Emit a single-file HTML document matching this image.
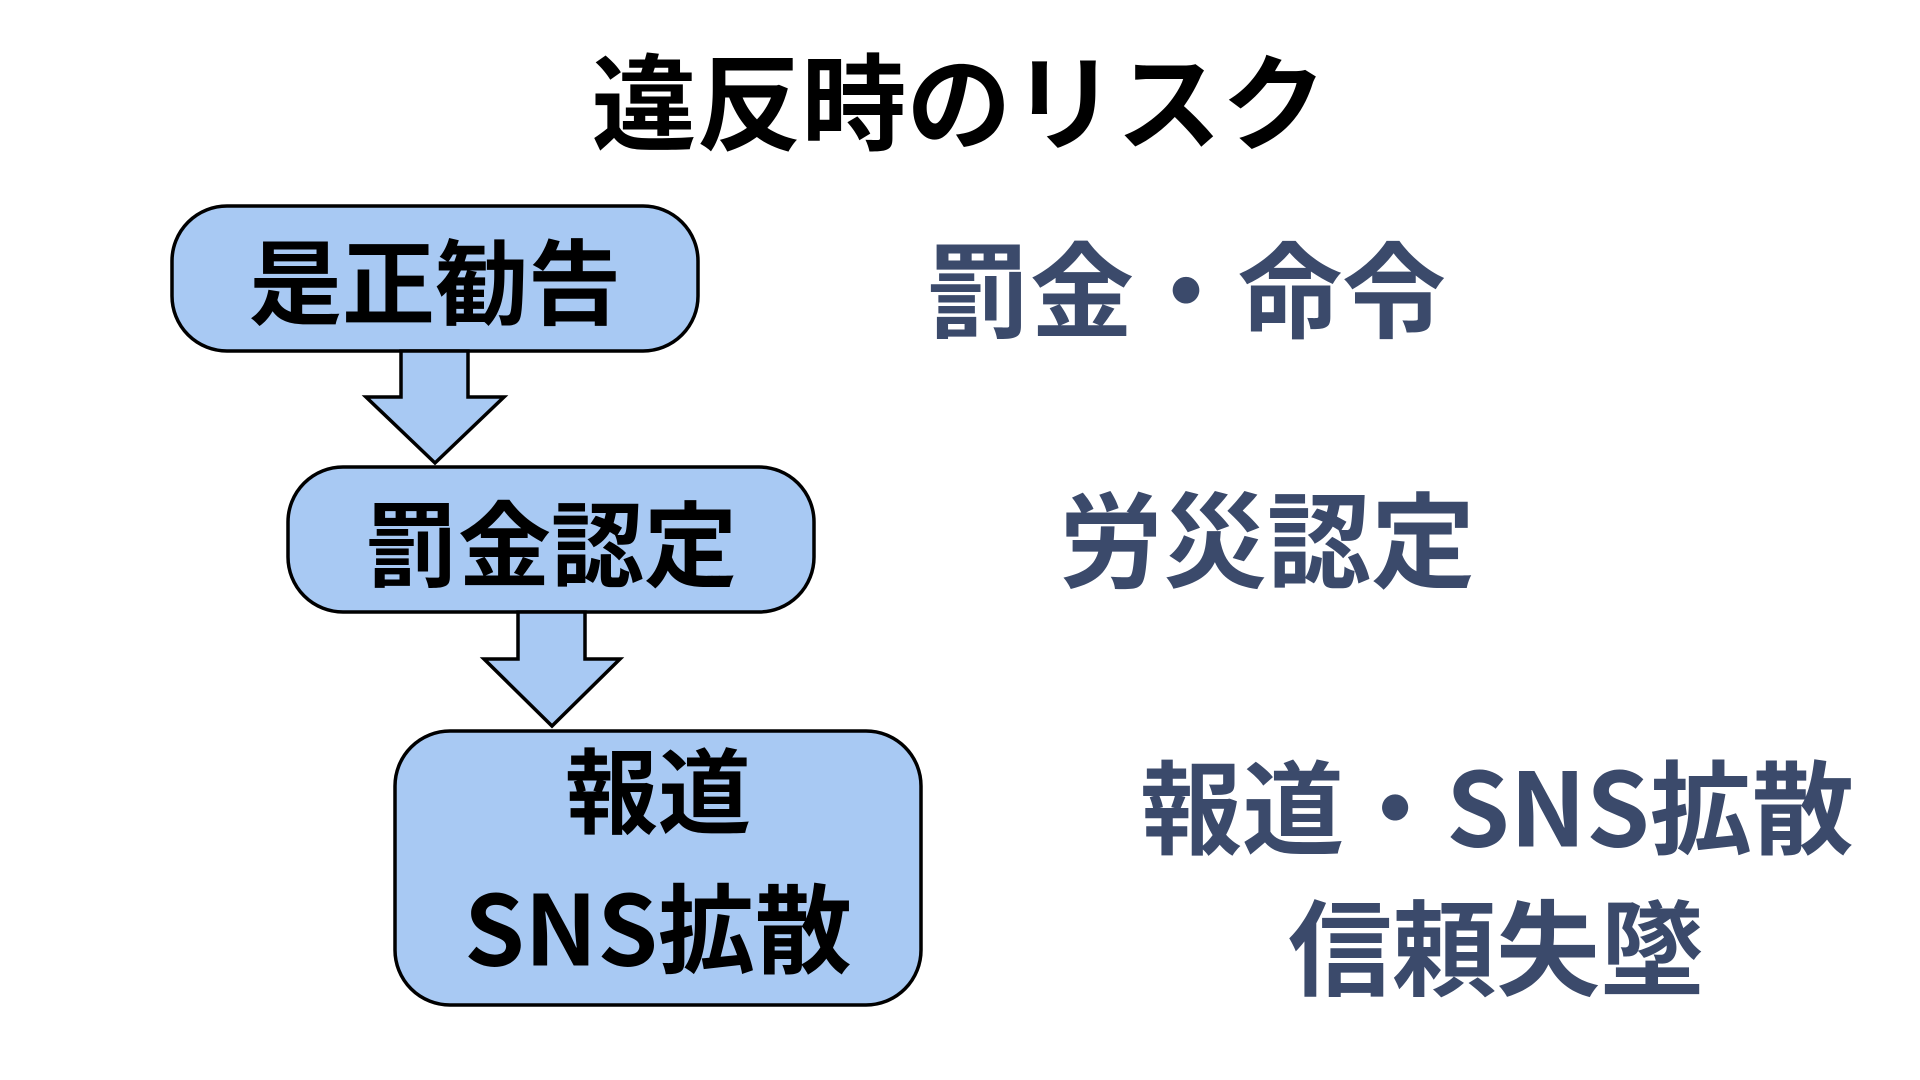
<!DOCTYPE html>
<html><head><meta charset="utf-8"><style>
html,body{margin:0;padding:0;background:#fff;}
svg{display:block}
text{font-family:"Noto Sans CJK JP","Liberation Sans",sans-serif;font-weight:700;text-anchor:middle;dominant-baseline:central}
</style></head><body>
<svg width="1920" height="1080" viewBox="0 0 1920 1080">
<text x="959" y="97" font-size="105" fill="#000">違反時のリスク</text>
<g fill="#a8c9f3" stroke="#000" stroke-width="3.5">
<rect x="172" y="206" width="526" height="145" rx="55"/>
<polygon points="401,351 468,351 468,397 504,397 435,463 366,397 401,397"/>
<rect x="288" y="467" width="526" height="145" rx="55"/>
<polygon points="518,612 585,612 585,659 620,659 552,726 484,659 518,659"/>
<rect x="395" y="731" width="526" height="274" rx="55"/>
</g>
<g fill="#000" font-size="93">
<text x="435" y="277">是正勧告</text>
<text x="551" y="539">罰金認定</text>
<text x="658" y="786">報道</text>
<text x="658" y="923" font-size="97">SNS拡散</text>
</g>
<g fill="#3b4a6b" font-size="104">
<text x="1186" y="284">罰金・命令</text>
<text x="1267" y="534">労災認定</text>
<text x="1497" y="803" font-size="102">報道・SNS拡散</text>
<text x="1496" y="942">信頼失墜</text>
</g>
</svg>
</body></html>
